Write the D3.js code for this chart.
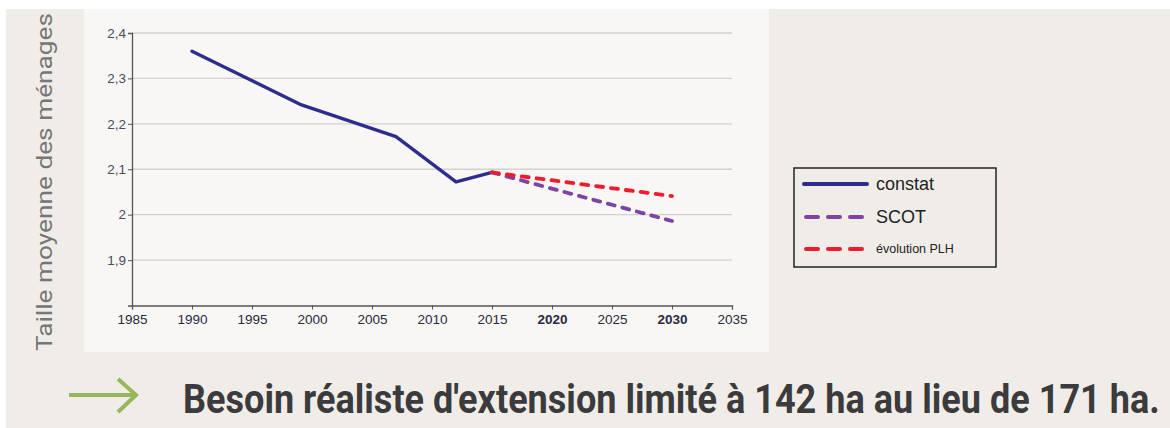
<!DOCTYPE html>
<html>
<head>
<meta charset="utf-8">
<script src="https://cdn.jsdelivr.net/npm/d3@7"></script>
<style>
  html, body { margin: 0; padding: 0; background: #fff; }
  svg { display: block; }
</style>
</head>
<body>
<div id="chart"></div>
<script>
// data
var constatYears = [1990, 1999, 2007, 2012, 2015];
var constatValues = [2.36, 2.243, 2.172, 2.072, 2.093];
var scotYears = [2015, 2030];
var scotValues = [2.093, 1.986];
var plhYears = [2015, 2030];
var plhValues = [2.093, 2.041];
var xTicks = [1985, 1990, 1995, 2000, 2005, 2010, 2015, 2020, 2025, 2030, 2035];
var boldTicks = [2020, 2030];
var yTicks = [1.9, 2.0, 2.1, 2.2, 2.3, 2.4];

var W = 1170, H = 428;
var svg = d3.select("#chart").append("svg").attr("width", W).attr("height", H);

// backgrounds
svg.append("rect").attr("x", 6).attr("y", 9).attr("width", W - 6).attr("height", H - 9).attr("fill", "#f0ede8");
svg.append("rect").attr("x", 84).attr("y", 9).attr("width", 685).attr("height", 343).attr("fill", "#f8f7f5");

var x = d3.scaleLinear().domain([1985, 2035]).range([132, 732]);
var y = d3.scaleLinear().domain([1.8, 2.4]).range([305.5, 33]);

// gridlines
svg.append("g").selectAll("line").data(yTicks).join("line")
  .attr("x1", x(1985)).attr("x2", x(2035))
  .attr("y1", d => y(d)).attr("y2", d => y(d))
  .attr("stroke", "#d2d2d0").attr("stroke-width", 1.3);

var fmt = d => String(Math.round(d * 10) / 10).replace(".", ",");

var yAxis = svg.append("g").attr("transform", "translate(" + x(1985) + ",0)")
  .call(d3.axisLeft(y).tickValues(yTicks).tickSize(4).tickFormat(fmt));
yAxis.select(".domain").attr("stroke", "#555").attr("stroke-width", 1.3);
yAxis.selectAll(".tick line").attr("stroke", "#555");
yAxis.selectAll("text").attr("font-family", "Liberation Sans, Arial, sans-serif")
  .attr("font-size", 13.5).attr("fill", "#4a4a60").attr("x", -6);

var xAxis = svg.append("g").attr("transform", "translate(0," + y(1.8) + ")")
  .call(d3.axisBottom(x).tickValues(xTicks).tickSize(4).tickFormat(d3.format("d")));
xAxis.select(".domain").attr("stroke", "#555").attr("stroke-width", 1.3);
xAxis.selectAll(".tick line").attr("stroke", "#555");
xAxis.selectAll("text").attr("font-family", "Liberation Sans, Arial, sans-serif")
  .attr("font-size", 13.5).attr("fill", "#2a2a40").attr("y", 9)
  .attr("font-weight", d => boldTicks.indexOf(d) >= 0 ? "bold" : "normal");

// lines
var line = d3.line().x(d => x(d[0])).y(d => y(d[1]));
var series = [
  { years: constatYears, values: constatValues, color: "#2e2d8e", dash: null, w: 3.4 },
  { years: scotYears, values: scotValues, color: "#7d44a3", dash: "7,8", w: 3.8 },
  { years: plhYears, values: plhValues, color: "#ee1c2e", dash: "7,8", w: 3.8 }
];
series.forEach(function (s) {
  svg.append("path")
    .datum(d3.zip(s.years, s.values))
    .attr("d", line)
    .attr("fill", "none")
    .attr("stroke", s.color)
    .attr("stroke-width", s.w)
    .attr("stroke-linejoin", "round")
    .attr("stroke-linecap", "round")
    .attr("stroke-dasharray", s.dash);
});

// legend
var legend = svg.append("g");
legend.append("rect").attr("x", 794).attr("y", 168).attr("width", 202).attr("height", 99)
  .attr("fill", "none").attr("stroke", "#222").attr("stroke-width", 1.5);
var legendItems = [
  { name: "constat", color: "#2e2d8e", dash: null, y: 184, size: 18 },
  { name: "SCOT", color: "#7d44a3", dash: "12,10", y: 217, size: 18 },
  { name: "évolution PLH", color: "#ee1c2e", dash: "12,10", y: 249, size: 12.5 }
];
legendItems.forEach(function (d) {
  legend.append("line").attr("x1", d.dash ? 806 : 804).attr("x2", d.dash ? 866 : 867)
    .attr("y1", d.y).attr("y2", d.y)
    .attr("stroke", d.color).attr("stroke-width", 4)
    .attr("stroke-linecap", "round").attr("stroke-dasharray", d.dash);
  legend.append("text").attr("x", 876).attr("y", d.y).attr("dy", "0.35em")
    .attr("font-family", "Liberation Sans, Arial, sans-serif").attr("font-size", d.size)
    .attr("fill", "#222").text(d.name);
});

// y axis title
svg.append("text")
  .attr("transform", "translate(52,351) rotate(-90)")
  .attr("font-family", "Roboto, sans-serif").attr("font-weight", 400)
  .attr("font-size", 22).attr("fill", "#767676")
  .attr("textLength", 338).attr("lengthAdjust", "spacingAndGlyphs")
  .text("Taille moyenne des ménages");

// bottom message with arrow
var arrow = svg.append("g").attr("stroke", "#98b65c").attr("stroke-width", 4)
  .attr("fill", "none").attr("stroke-linecap", "butt");
arrow.append("line").attr("x1", 69).attr("x2", 135).attr("y1", 395).attr("y2", 395);
arrow.append("polyline").attr("points", "118,379 136,395 118,412");

var msg = svg.append("text").attr("x", 0).attr("y", 0)
  .attr("font-family", "Roboto, sans-serif").attr("font-weight", "bold")
  .attr("font-size", 40).attr("fill", "#3b3b3d")
  .text("Besoin réaliste d'extension limité à 142 ha au lieu de 171 ha.");
var natural = msg.node().getComputedTextLength();
msg.attr("transform", "translate(183,413) scale(" + (977 / natural) + ",1)");
</script>
</body>
</html>
